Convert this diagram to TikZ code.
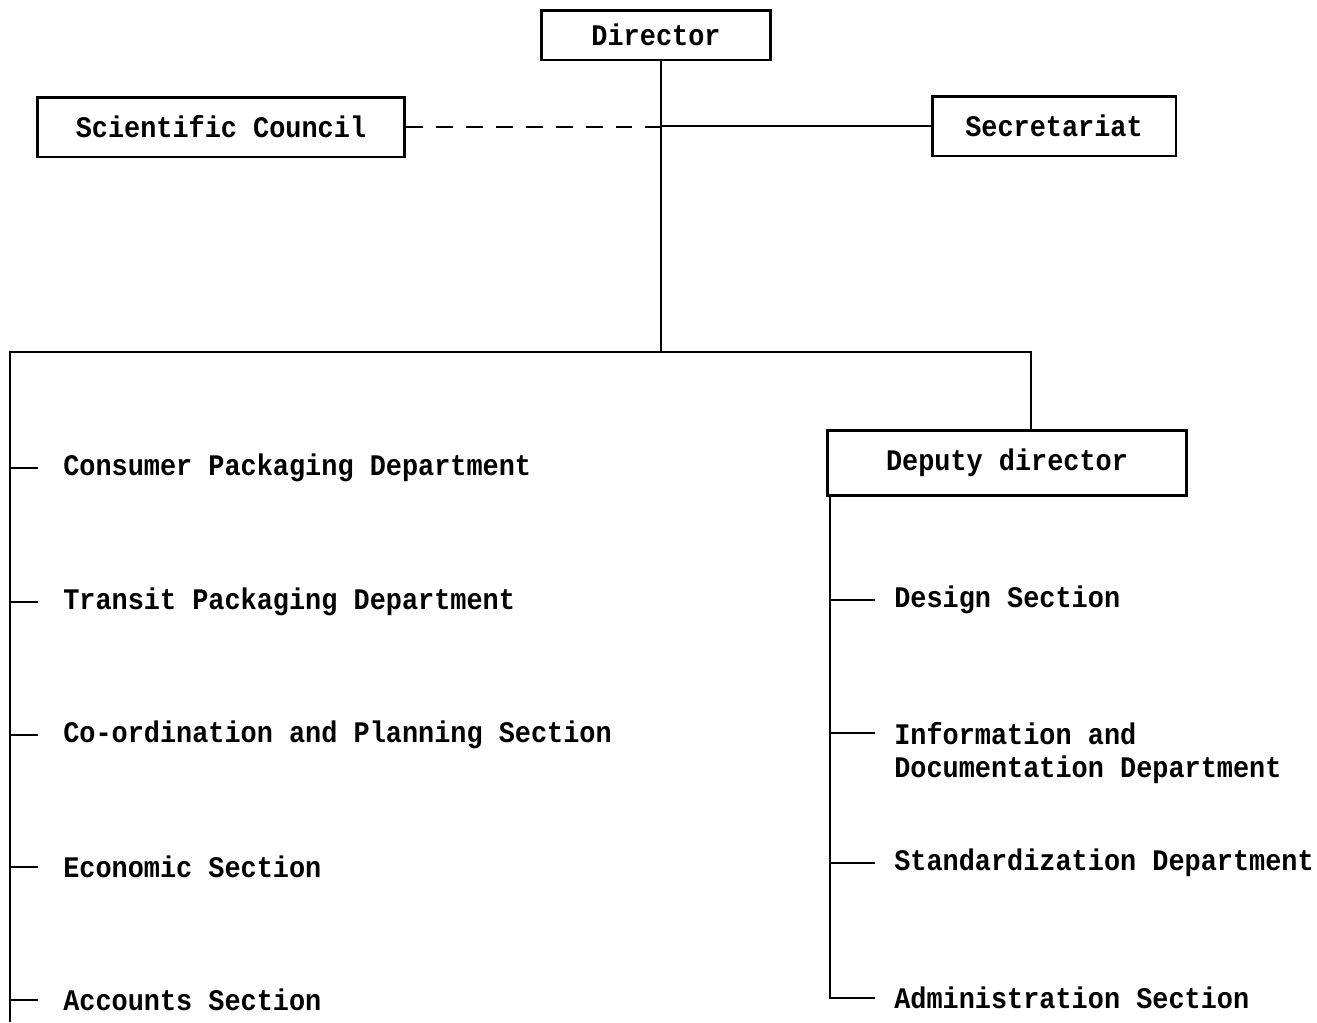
\documentclass[tikz,border=0pt]{standalone}
\usepackage{fontspec}
\setmonofont[FakeStretch=0.9]{Liberation Mono}
\usepackage{tikz}
\usetikzlibrary{positioning}

\begin{document}
\begin{tikzpicture}[x=0.02cm,y=-0.02cm,
		every node/.style={font=\ttfamily\bfseries\fontsize{17}{18.8}\selectfont},
		box/.style={draw,line width=1.7pt,inner sep=0pt},
		leaf/.style={anchor=west,inner ysep=2pt,inner xsep=0.48cm},
		leafR/.style={anchor=west,inner ysep=2pt,inner xsep=0.36cm,align=left},
		line width=1.5pt]
		\useasboundingbox (0,0) rectangle (1317,1022);
		% top boxes
		\node[box,minimum width=4.6cm,minimum height=1.0cm] (dir) at (656,35) {Director};
		\node[box,minimum width=7.36cm,minimum height=1.2cm] (sc) at (221,127) {Scientific Council};
		\node[box,minimum width=4.88cm,minimum height=1.2cm] (sec) at (1054,126) {Secretariat};
		\node[box,minimum width=7.2cm,minimum height=1.3cm] (dep) at (1007,463) {Deputy director};
		\coordinate (top) at (661,352);
		\coordinate (busL) at (10,352);
		\coordinate (busE) at (1031,352);
		\coordinate (depL) at (830,495);
		\draw (dir.south -| top) -- (top);
		\draw[dash pattern=on 9.6pt off 7.4pt] (sc.east) -- (sc.east -| top);
		\draw (sec.west) -- (sec.west -| top);
		\draw (busL |- 0,1022) -- (busL) -- (busE) -- (busE |- dep.north);
		% left column
		\node[leaf] (cpd) at (38,468) {Consumer Packaging Department};
		\node[leaf] (tpd) at (38,602) {Transit Packaging Department};
		\node[leaf] (cps) at (38,735) {Co-ordination and Planning Section};
		\node[leaf] (ecs) at (38,867) {Economic Section};
		\node[leaf] (acs) at (38,1000) {Accounts Section};
		\foreach \n in {cpd,tpd,cps,ecs,acs}
			\draw (busL |- \n.west) -- (\n.west);
		% right column
		\node[leafR] (des) at (875,600) {Design Section};
		\node[leafR,anchor=north west] (idd) at (875,718) {Information and\\Documentation Department};
		\node[leafR] (std) at (875,863) {Standardization Department};
		\node[leafR] (adm) at (875,998) {Administration Section};
		\draw (depL) -- (depL |- adm.west) -- (adm.west);
		\foreach \n in {des,std}
			\draw (depL |- \n.west) -- (\n.west);
		\draw (depL |- 0,733) -- (idd.west |- 0,733);
	\end{tikzpicture}
\end{document}
